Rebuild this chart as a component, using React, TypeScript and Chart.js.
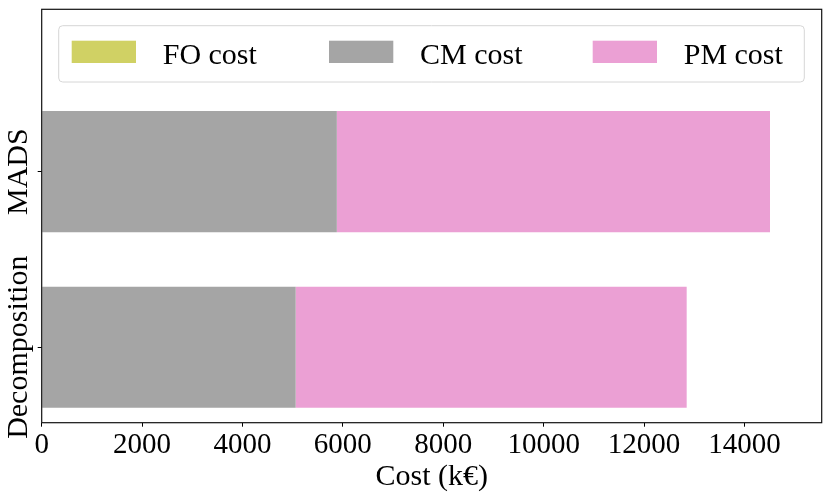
import React, { useEffect, useRef } from 'react';
import { Chart, registerables } from 'chart.js';

Chart.register(...registerables);

// ---- data ----
const categories = ['Decomposition', 'MADS'];
const foCost = [0, 0];
const cmCost = [5060, 5880];
const pmCost = [7790, 8630];
const xTickValues = [0, 2000, 4000, 6000, 8000, 10000, 12000, 14000];
const seriesLabels = ['FO cost', 'CM cost', 'PM cost'];
const seriesColors = ['#d0d164', '#a5a5a5', '#eba0d4'];
const xAxisTitle = 'Cost (k€)';

const FONT = '"Liberation Serif", "Times New Roman", serif';

const framePlugin = {
  id: 'frameAndLabels',
  afterDraw(chart: any) {
    const ctx = chart.ctx;
    const ca = chart.chartArea;
    ctx.save();
    // spines
    ctx.strokeStyle = '#111';
    ctx.lineWidth = 1.2;
    ctx.strokeRect(ca.left, ca.top, ca.right - ca.left, ca.bottom - ca.top);

    // rotated y category labels
    const yScale = chart.scales.y;
    ctx.fillStyle = '#000';
    ctx.font = `30px ${FONT}`;
    ctx.textAlign = 'center';
    ctx.textBaseline = 'alphabetic';
    categories.forEach((c, i) => {
      const py = yScale.getPixelForValue(i);
      ctx.save();
      ctx.translate(ca.left - 14.7, py);
      ctx.rotate(-Math.PI / 2);
      ctx.fillText(c, 0, 0);
      ctx.restore();
    });

    // legend
    const bx = ca.left + 17;
    const by = ca.top + 16.4;
    const bw = ca.right - 17.4 - bx;
    const bh = 56.3;
    ctx.beginPath();
    (ctx as any).roundRect(bx, by, bw, bh, 4);
    ctx.fillStyle = 'rgba(255,255,255,0.8)';
    ctx.fill();
    ctx.strokeStyle = '#d6d6d6';
    ctx.lineWidth = 1;
    ctx.stroke();
    const offsets = [30, 287.3, 551];
    seriesLabels.forEach((lab, i) => {
      const px = ca.left + offsets[i];
      const py = by + 15;
      ctx.fillStyle = seriesColors[i];
      ctx.fillRect(px, py, 64.3, 22.3);
      ctx.fillStyle = '#000';
      ctx.textAlign = 'left';
      ctx.textBaseline = 'alphabetic';
      ctx.fillText(lab, px + 64.3 + 26.7, by + 38);
    });
    ctx.restore();
  },
};

export default function App() {
  const ref = useRef<HTMLCanvasElement>(null);
  useEffect(() => {
    if (!ref.current) return;
    const series = [foCost, cmCost, pmCost];
    const chart = new Chart(ref.current, {
      type: 'bar',
      data: {
        datasets: series.map((vals, k) => ({
          label: seriesLabels[k],
          data: categories.map((_, i) => ({ x: vals[i], y: i })),
          backgroundColor: seriesColors[k],
          borderWidth: 0,
          categoryPercentage: 1,
          barPercentage: 0.69,
        })),
      },
      options: {
        indexAxis: 'y',
        animation: false,
        responsive: true,
        maintainAspectRatio: false,
        layout: { padding: { top: 9.3, right: 8.3, left: 0, bottom: 0 } },
        plugins: { legend: { display: false }, tooltip: { enabled: false } },
        scales: {
          x: {
            type: 'linear',
            stacked: true,
            offset: false,
            min: 0,
            max: 15540,
            afterBuildTicks: (s: any) => {
              s.ticks = xTickValues.map((v) => ({ value: v }));
            },
            ticks: {
              callback: (v: any) => String(v),
              font: { family: FONT, size: 29 },
              color: '#000',
              padding: 1,
              maxRotation: 0,
              autoSkip: false,
            },
            grid: { offset: false, drawOnChartArea: false, tickLength: 4, tickColor: '#000', tickWidth: 1 },
            border: { display: false },
            title: {
              display: true,
              text: xAxisTitle,
              font: { family: FONT, size: 30 },
              color: '#000',
              padding: { top: 0, bottom: 3 },
            },
            afterFit: (s: any) => {
              s.height = 75.3;
            },
          },
          y: {
            type: 'linear',
            stacked: true,
            offset: false,
            min: -0.43,
            max: 1.925,
            afterBuildTicks: (s: any) => {
              s.ticks = categories.map((_, i) => ({ value: i }));
            },
            ticks: { display: false },
            grid: { offset: false, drawOnChartArea: false, tickLength: 4, tickColor: '#000', tickWidth: 1 },
            border: { display: false },
            afterFit: (s: any) => {
              s.width = 41.7;
            },
          },
        },
      },
      plugins: [framePlugin],
    });
    return () => chart.destroy();
  }, []);
  return (
    <div style={{ position: 'fixed', left: 0, top: 0, width: 830, height: 498, background: '#fff' }}>
      <canvas ref={ref} />
    </div>
  );
}
